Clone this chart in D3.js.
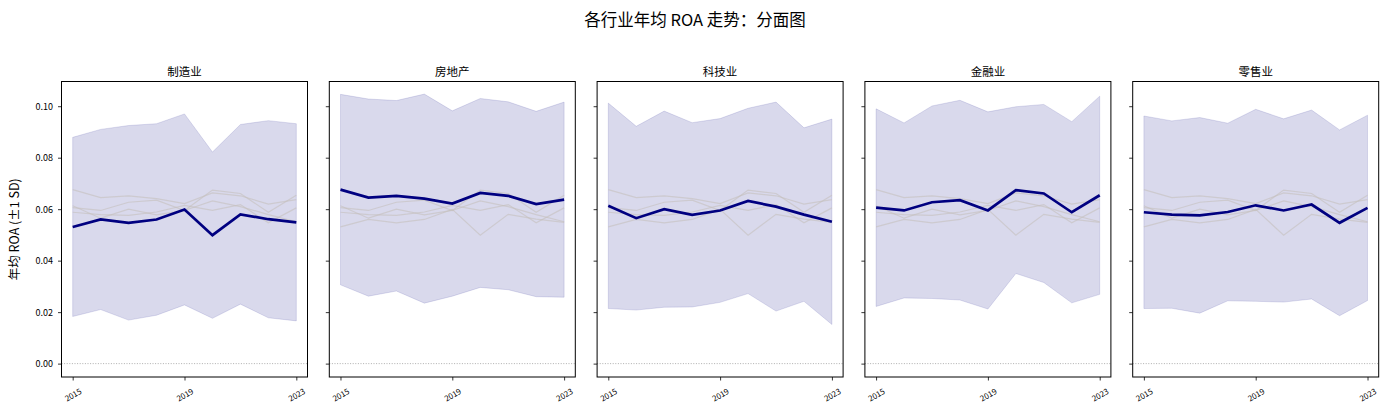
<!DOCTYPE html>
<html>
<head>
<meta charset="utf-8">
<script src="https://cdn.jsdelivr.net/npm/d3@7"></script>
<style>
    body { margin: 0; background: white; }
    text { font-family: "Noto Sans CJK SC", "DejaVu Sans", sans-serif; }
</style>
</head>
<body>
<div id="chart"></div>
<script>
// Data
const years = [2015, 2016, 2017, 2018, 2019, 2020, 2021, 2022, 2023];
const industries = ['制造业', '房地产', '科技业', '金融业', '零售业'];
const xTicks = [2015, 2019, 2023];
const yTicks = [0.00, 0.02, 0.04, 0.06, 0.08, 0.10];

const meanMfg     = [0.0531, 0.0560, 0.0547, 0.0560, 0.0599, 0.0499, 0.0580, 0.0561, 0.0549];
const sdMfg       = [0.0348, 0.0350, 0.0378, 0.0372, 0.0371, 0.0323, 0.0349, 0.0383, 0.0383];
const meanRealty  = [0.0676, 0.0645, 0.0652, 0.0641, 0.0622, 0.0663, 0.0652, 0.0620, 0.0637];
const sdRealty    = [0.0370, 0.0383, 0.0370, 0.0406, 0.0360, 0.0367, 0.0365, 0.0360, 0.0379];
const meanTech    = [0.0613, 0.0565, 0.0600, 0.0578, 0.0595, 0.0632, 0.0610, 0.0579, 0.0551];
const sdTech      = [0.0399, 0.0357, 0.0381, 0.0358, 0.0357, 0.0360, 0.0406, 0.0337, 0.0399];
const meanFinance = [0.0606, 0.0595, 0.0627, 0.0635, 0.0595, 0.0674, 0.0661, 0.0588, 0.0654];
const sdFinance   = [0.0384, 0.0340, 0.0374, 0.0388, 0.0383, 0.0324, 0.0346, 0.0352, 0.0385];
const meanRetail  = [0.0588, 0.0579, 0.0576, 0.0589, 0.0615, 0.0595, 0.0618, 0.0547, 0.0605];
const sdRetail    = [0.0374, 0.0364, 0.0380, 0.0345, 0.0373, 0.0356, 0.0367, 0.0361, 0.0360];

const means = [meanMfg, meanRealty, meanTech, meanFinance, meanRetail];
const sds = [sdMfg, sdRealty, sdTech, sdFinance, sdRetail];

// Layout
const W = 1388, H = 413;
const panelLeft = 61.5, panelTop = 81.5, panelW = 246, panelH = 295.5, panelGap = 21.8;

const svg = d3.select('#chart')
    .append('svg')
    .attr('width', W)
    .attr('height', H);

svg.append('text')
    .attr('x', 695)
    .attr('y', 26)
    .attr('text-anchor', 'middle')
    .style('font-size', '16.5px')
    .style('fill', '#000')
    .text('各行业年均 ROA 走势：分面图');

svg.append('text')
    .attr('transform', `translate(19, ${panelTop + panelH / 2}) rotate(-90)`)
    .attr('text-anchor', 'middle')
    .style('font-size', '12.5px')
    .style('fill', '#000')
    .text('年均 ROA (±1 SD)');

// Shared scales (sharey)
const x = d3.scaleLinear()
    .domain([2014.6, 2023.4])
    .range([0, panelW]);

const y = d3.scaleLinear()
    .domain([-0.0052, 0.1096])
    .range([panelH, 0]);

const line = d3.line()
    .x((d, i) => x(years[i]))
    .y(d => y(d));

const area = d3.area()
    .x(d => x(d.year))
    .y0(d => y(d.mean - d.sd))
    .y1(d => y(d.mean + d.sd));

industries.forEach((name, k) => {
    const g = svg.append('g')
        .attr('transform', `translate(${panelLeft + k * (panelW + panelGap)}, ${panelTop})`);

    // zero reference line
    g.append('line')
        .attr('x1', 0).attr('x2', panelW)
        .attr('y1', y(0)).attr('y2', y(0))
        .style('stroke', '#999')
        .style('stroke-width', 0.8)
        .style('stroke-dasharray', '1,1.6');

    // ±1 SD band
    const bandData = years.map((yr, i) => ({ year: yr, mean: means[k][i], sd: sds[k][i] }));
    g.append('path')
        .datum(bandData)
        .attr('d', area)
        .style('fill', 'navy')
        .style('fill-opacity', 0.15)
        .style('stroke', 'navy')
        .style('stroke-opacity', 0.12)
        .style('stroke-width', 1);

    // other industries as background
    means.forEach((m, j) => {
        if (j === k) return;
        g.append('path')
            .datum(m)
            .attr('d', line)
            .style('fill', 'none')
            .style('stroke', '#c4c0bc')
            .style('stroke-opacity', 0.6)
            .style('stroke-width', 1.2);
    });

    // this industry
    g.append('path')
        .datum(means[k])
        .attr('d', line)
        .style('fill', 'none')
        .style('stroke', 'navy')
        .style('stroke-width', 2.7)
        .style('stroke-linejoin', 'miter');

    // axes
    const xAxis = g.append('g')
        .attr('transform', `translate(0, ${panelH})`)
        .call(d3.axisBottom(x).tickValues(xTicks).tickFormat(d3.format('d')).tickSize(3.5).tickSizeOuter(0).tickPadding(5));
    xAxis.select('.domain').remove();
    xAxis.selectAll('text')
        .style('font-size', '8px')
        .style('fill', '#000')
        .attr('text-anchor', 'middle')
        .attr('dy', '0.35em')
        .attr('y', 0)
        .attr('transform', 'translate(0, 18) rotate(-30)');

    const yAxis = g.append('g')
        .call(d3.axisLeft(y).tickValues(yTicks).tickFormat(d3.format('.2f')).tickSize(3.5).tickSizeOuter(0).tickPadding(5));
    yAxis.select('.domain').remove();
    yAxis.selectAll('text')
        .style('font-size', '9px')
        .style('fill', '#000');
    if (k > 0) yAxis.selectAll('text').remove();
    g.selectAll('.tick line').style('stroke', '#000').style('stroke-width', 0.8);

    // frame
    g.append('rect')
        .attr('width', panelW)
        .attr('height', panelH)
        .style('fill', 'none')
        .style('stroke', '#000')
        .style('stroke-width', 1);

    g.append('text')
        .attr('x', panelW / 2)
        .attr('y', -6)
        .attr('text-anchor', 'middle')
        .style('font-size', '11.5px')
        .style('fill', '#000')
        .text(name);
});
</script>
</body>
</html>
